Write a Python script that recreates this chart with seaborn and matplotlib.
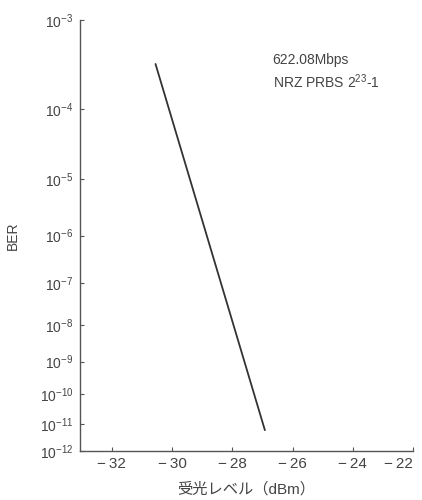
import numpy as np
import pandas as pd
import matplotlib
matplotlib.use("Agg")
import matplotlib.pyplot as plt
import seaborn as sns

# ---- data ----
power_dbm = [-30.55, -26.92]          # received optical level (dBm)
ber_values = [3.5e-4, 6.0e-12]        # bit error rate
x_ticks = [-32, -30, -28, -26, -24, -22]
x_tick_labels = ["−\u200932", "−\u200930", "−\u200928", "−\u200926", "−\u200924", "−\u200922"]
y_exponents = [-3, -4, -5, -6, -7, -8, -9, -10, -11, -12]
annotation_lines = ["622.08Mbps", "NRZ PRBS 2$^{23}$-1"]
x_label = "受光レベル（dBm）"
y_label = "BER"

sns.set_theme(style="ticks")
plt.rcParams["font.family"] = ["Liberation Sans", "Noto Sans CJK JP", "DejaVu Sans"]
plt.rcParams["mathtext.fontset"] = "custom"
plt.rcParams["mathtext.rm"] = "Liberation Sans"
plt.rcParams["mathtext.it"] = "Liberation Sans"
plt.rcParams["mathtext.default"] = "regular"

text_color = "#444444"

df = pd.DataFrame({"power": power_dbm, "ber": ber_values})

fig = plt.figure(figsize=(4.22, 5.0), dpi=100)
ax = fig.add_axes([0.19, 0.098, 0.789, 0.862])


def fwd(y):
    y = np.clip(np.asarray(y, dtype=float), 1e-300, 0.999999)
    return -np.log10(-np.log10(y))


def inv(f):
    f = np.asarray(f, dtype=float)
    return 10.0 ** (-(10.0 ** (-f)))


ax.set_yscale("function", functions=(fwd, inv))
sns.lineplot(data=df, x="power", y="ber", ax=ax, color="#333333", linewidth=1.3)

ax.set_xlim(-33.05, -22)
ax.set_ylim(1e-12, 1e-3)

ax.set_xticks(x_ticks)
ax.set_xticklabels(x_tick_labels)
yt = [10.0 ** e for e in y_exponents]
ax.set_yticks(yt)
ax.set_yticklabels([f"10$^{{{e}}}$" for e in y_exponents])
ax.minorticks_off()

ax.tick_params(axis="both", direction="in", length=3, width=0.8,
               colors="#555555", labelcolor=text_color)
ax.tick_params(axis="y", labelsize=10, pad=5)
ax.tick_params(axis="x", labelsize=11, pad=4)
# keep the last x label inside the figure
lbls = ax.get_xticklabels()
lbls[-1].set_horizontalalignment("right")
lbls[-1].set_x(lbls[-1].get_position()[0])

for s in ["top", "right"]:
    ax.spines[s].set_visible(False)
for s in ["left", "bottom"]:
    ax.spines[s].set_color("#555555")
    ax.spines[s].set_linewidth(1.0)

ax.set_xlabel(x_label, fontsize=11, color=text_color, labelpad=8)
ax.set_ylabel(y_label, fontsize=10, color=text_color, labelpad=14)

ax.text(0.578, 0.908, annotation_lines[0], transform=ax.transAxes,
        fontsize=10, color=text_color, va="center", ha="left")
ax.text(0.578, 0.856, annotation_lines[1], transform=ax.transAxes,
        fontsize=10, color=text_color, va="center", ha="left")

fig.savefig("out.png", dpi=100)
